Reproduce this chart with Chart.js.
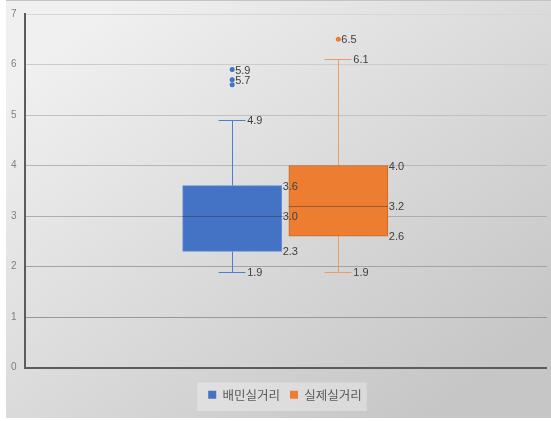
<!DOCTYPE html>
<html>
<head>
<meta charset="utf-8">
<script src="https://cdn.jsdelivr.net/npm/chart.js@4.4.1/dist/chart.umd.min.js"></script>
<style>
  html, body { margin: 0; padding: 0; background: #fff; }
  #wrap { position: relative; width: 551px; height: 421px; }
</style>
</head>
<body>
<div id="wrap"><canvas id="chart"></canvas></div>
<script>
// box & whisker summary per series
var seriesNames = ['배민실거리', '실제실거리']
var seriesColours = ['#4472C4', '#ED7D31']
var edgeColours = ['#5e88d0', '#c9682a']
var whiskerColours = ['#4f7dcf', '#f09a68']
var mins = [1.9, 1.9]
var q1s = [2.3, 2.6]
var medians = [3.0, 3.2]
var q3s = [3.6, 4.0]
var maxs = [4.9, 6.1]
var outliers = [[5.9, 5.7, 5.6], [6.5]]
var yTicks = [0, 1, 2, 3, 4, 5, 6, 7]

var labelFont = '11px "Liberation Sans", sans-serif'

function fmt(v) {
  return v.toFixed(1)
}

// grid lines get darker toward the bottom of the plot
function gridGrey(value) {
  var g = Math.round(0x8e + (value / 7) * (0xd6 - 0x8e))
  return 'rgb(' + g + ',' + g + ',' + g + ')'
}

var datasets = []
seriesNames.forEach(function(name, i) {
  datasets.push({
    type: 'bar',
    label: name,
    data: [{ x: i + 1, y: [q1s[i], q3s[i]] }],
    backgroundColor: seriesColours[i],
    borderColor: edgeColours[i],
    borderWidth: 1,
    borderSkipped: false,
    barThickness: 99,
    grouped: false,
    order: 2
  })
})
seriesNames.forEach(function(name, i) {
  datasets.push({
    type: 'scatter',
    label: name + ' 이상값',
    data: outliers[i].map(function(v) { return { x: i + 1, y: v } }),
    backgroundColor: seriesColours[i],
    pointRadius: 2.5,
    pointBorderWidth: 0,
    order: 1
  })
})

var legendShift = 8

var frame = {
  id: 'frame',
  afterLayout: function(chart) {
    // nudge the legend a little right of the canvas centre
    var legend = chart.legend
    legend.left += legendShift
    legend.right += legendShift
    legend.legendHitBoxes.forEach(function(b) { b.left += legendShift })
  },
  beforeDraw: function(chart) {
    var ctx = chart.ctx
    ctx.save()
    ctx.fillStyle = '#ffffff'
    ctx.fillRect(0, 0, chart.width, chart.height)
    var grad = ctx.createLinearGradient(120, 0, 430, 418)
    grad.addColorStop(0, '#f0f0f0')
    grad.addColorStop(1, '#c6c6c6')
    ctx.fillStyle = grad
    ctx.fillRect(6, 1, chart.width - 6, 417)
    ctx.fillStyle = '#c4c4c4'
    ctx.fillRect(6, 0, chart.width - 6, 1)

    // soft panel behind the legend items
    var boxes = chart.legend.legendHitBoxes
    if (boxes && boxes.length) {
      var left = Math.min.apply(null, boxes.map(function(b) { return b.left }))
      var right = Math.max.apply(null, boxes.map(function(b) { return b.left + b.width }))
      var top = boxes[0].top
      ctx.fillStyle = 'rgba(255,255,255,0.3)'
      ctx.fillRect(left - 11, top - 6, right - left + 16, boxes[0].height + 16)
    }
    ctx.restore()
  }
}

var boxWhisker = {
  id: 'boxWhisker',
  beforeDatasetsDraw: function(chart) {
    var ctx = chart.ctx
    var y = chart.scales.y
    ctx.save()
    seriesNames.forEach(function(name, i) {
      var bar = chart.getDatasetMeta(i).data[0]
      var cx = Math.round(bar.x) + 0.5
      ctx.strokeStyle = whiskerColours[i]
      ctx.lineWidth = 1
      ctx.beginPath()
      ctx.moveTo(cx, y.getPixelForValue(q3s[i]))
      ctx.lineTo(cx, Math.round(y.getPixelForValue(maxs[i])) + 0.5)
      ctx.moveTo(cx, y.getPixelForValue(q1s[i]))
      ctx.lineTo(cx, Math.round(y.getPixelForValue(mins[i])) + 0.5)
      ;[maxs[i], mins[i]].forEach(function(v) {
        var py = Math.round(y.getPixelForValue(v)) + 0.5
        ctx.moveTo(cx - 14, py)
        ctx.lineTo(cx + 13, py)
      })
      ctx.stroke()
    })
    ctx.restore()
  },
  afterDatasetsDraw: function(chart) {
    var ctx = chart.ctx
    var y = chart.scales.y
    ctx.save()
    ctx.font = labelFont
    ctx.textAlign = 'left'
    ctx.textBaseline = 'middle'
    seriesNames.forEach(function(name, i) {
      var bar = chart.getDatasetMeta(i).data[0]
      var cx = bar.x
      var half = bar.width / 2

      var my = Math.round(y.getPixelForValue(medians[i])) + 0.5
      ctx.strokeStyle = 'rgba(50,50,50,0.45)'
      ctx.lineWidth = 1
      ctx.beginPath()
      ctx.moveTo(cx - half, my)
      ctx.lineTo(cx + half, my)
      ctx.stroke()

      ctx.fillStyle = '#404040'
      ;[q3s[i], medians[i], q1s[i]].forEach(function(v) {
        ctx.fillText(fmt(v), cx + half + 1, y.getPixelForValue(v) + 1)
      })
      ;[maxs[i], mins[i]].forEach(function(v) {
        ctx.fillText(fmt(v), cx + 15, y.getPixelForValue(v) + 1)
      })

      // outlier labels, skipping ones that would sit on top of another
      var used = []
      outliers[i].forEach(function(v) {
        var py = y.getPixelForValue(v)
        var clash = used.some(function(u) { return Math.abs(u - py) < 7 })
        if (clash) return
        used.push(py)
        ctx.fillText(fmt(v), cx + 3, py + 1)
      })
    })
    ctx.restore()
  }
}

new Chart(document.getElementById('chart'), {
  data: { datasets: datasets },
  options: {
    responsive: true,
    maintainAspectRatio: false,
    animation: false,
    layout: { padding: { left: 3, top: 13, right: 0, bottom: 10 } },
    scales: {
      x: {
        type: 'linear',
        offset: false,
        min: -0.955,
        max: 3.965,
        ticks: { display: false },
        grid: { display: false },
        border: { display: false },
        afterFit: function(scale) { scale.height = 11 }
      },
      y: {
        min: 0,
        max: 7,
        afterBuildTicks: function(scale) {
          scale.ticks = yTicks.map(function(v) { return { value: v } })
        },
        ticks: {
          padding: 8,
          color: '#808080',
          font: { family: '"Liberation Sans", sans-serif', size: 10 }
        },
        grid: {
          drawTicks: false,
          color: function(c) { return c.tick.value === 0 ? '#5c5c5c' : gridGrey(c.tick.value) },
          lineWidth: function(c) { return c.tick.value === 0 ? 2 : 1 }
        },
        border: { color: '#5c5c5c', width: 2 }
      }
    },
    plugins: {
      legend: {
        position: 'bottom',
        labels: {
          boxWidth: 8,
          boxHeight: 8,
          padding: 10,
          color: '#595959',
          font: { family: '"Noto Sans CJK KR", sans-serif', size: 12.5 },
          filter: function(item) { return item.datasetIndex < seriesNames.length },
          generateLabels: function(chart) {
            return seriesNames.map(function(name, i) {
              return {
                text: name,
                fillStyle: seriesColours[i],
                strokeStyle: seriesColours[i],
                lineWidth: 0,
                fontColor: '#595959',
                datasetIndex: i
              }
            })
          }
        }
      },
      tooltip: { enabled: false }
    }
  },
  plugins: [frame, boxWhisker]
})
</script>
</body>
</html>
